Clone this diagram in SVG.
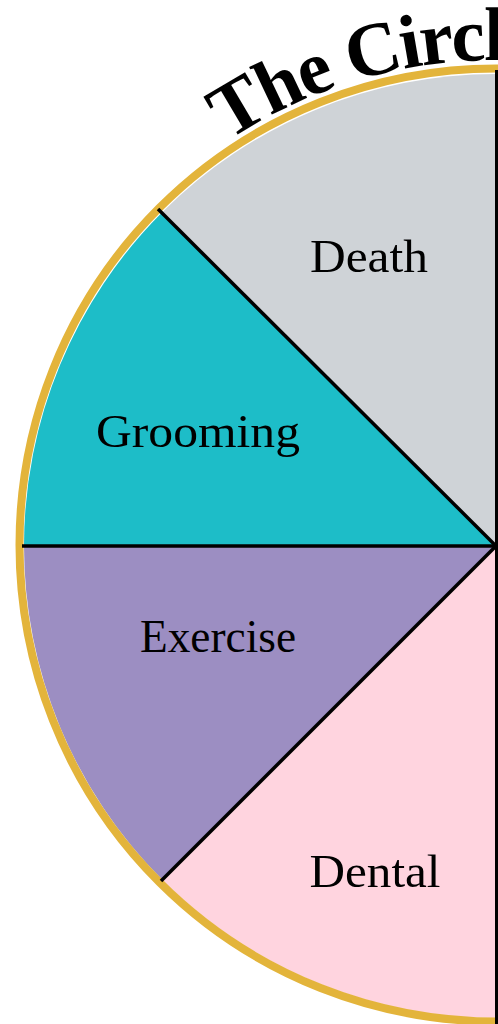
<svg xmlns="http://www.w3.org/2000/svg" width="498" height="1024" viewBox="0 0 498 1024">
<style>
.lbl{font-family:"Liberation Serif","DejaVu Serif",serif;font-size:47px;fill:#000;text-anchor:middle}
.title{font-family:"Liberation Serif","DejaVu Serif",serif;font-size:76px;font-weight:bold;fill:#000;letter-spacing:-2px}
.div{stroke:#000;stroke-width:3.5;fill:none}
</style>
<defs>
<path id="arc" d="M 11,545 A 485 485 0 0 1 981,545"/>
</defs>
<rect width="498" height="1024" fill="#fff"/>
<g id="death">
<path d="M496,546 L162.2,212.2 A472,472 0 0 1 496,74 Z" fill="#CFD3D7"/>
<text class="lbl" x="369" y="272" textLength="118" lengthAdjust="spacingAndGlyphs">Death</text>
</g>
<g id="grooming">
<path d="M496,546 L24,546 A472,472 0 0 1 162.2,212.2 Z" fill="#1DBDC8"/>
<text class="lbl" x="198" y="447" textLength="204" lengthAdjust="spacingAndGlyphs">Grooming</text>
</g>
<g id="exercise">
<path d="M496,546 L162.2,879.8 A472,472 0 0 1 24,546 Z" fill="#9C8EC2"/>
<text class="lbl" x="218" y="652" textLength="156" lengthAdjust="spacingAndGlyphs">Exercise</text>
</g>
<g id="dental">
<path d="M496,546 L496,1018 A472,472 0 0 1 162.2,879.8 Z" fill="#FFD4DF"/>
<text class="lbl" x="375" y="887" textLength="131" lengthAdjust="spacingAndGlyphs">Dental</text>
</g>
<g id="ring">
<circle cx="496" cy="545" r="476.5" fill="none" stroke="#E3B43B" stroke-width="8"/>
</g>
<g id="connectors">
<line class="div" x1="22" y1="546" x2="496" y2="546"/>
<line class="div" x1="158" y1="209" x2="496" y2="546"/>
<line class="div" x1="161" y1="881" x2="496" y2="546"/>
<line x1="497" y1="70" x2="497" y2="1024" stroke="#000" stroke-width="4"/>
</g>
<g id="title">
<text class="title"><textPath href="#arc" startOffset="478">The Circle</textPath></text>
</g>
</svg>
